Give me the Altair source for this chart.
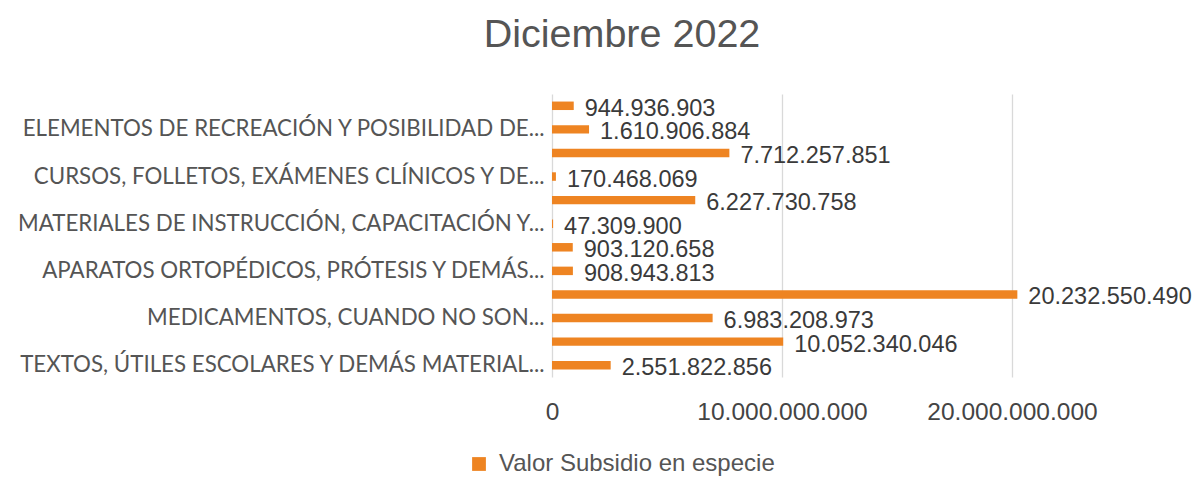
import altair as alt
import pandas as pd

categorias = [
    "(sin etiqueta 1)",
    "ELEMENTOS DE RECREACIÓN Y POSIBILIDAD DE...",
    "(sin etiqueta 2)",
    "CURSOS, FOLLETOS, EXÁMENES CLÍNICOS Y DE...",
    "(sin etiqueta 3)",
    "MATERIALES DE INSTRUCCIÓN, CAPACITACIÓN Y...",
    "(sin etiqueta 4)",
    "APARATOS ORTOPÉDICOS, PRÓTESIS Y DEMÁS...",
    "(sin etiqueta 5)",
    "MEDICAMENTOS, CUANDO NO SON...",
    "(sin etiqueta 6)",
    "TEXTOS, ÚTILES ESCOLARES Y DEMÁS MATERIAL...",
]
etiquetas_visibles = [c for c in categorias if not c.startswith("(sin")]
valores = [
    944936903,
    1610906884,
    7712257851,
    170468069,
    6227730758,
    47309900,
    903120658,
    908943813,
    20232550490,
    6983208973,
    10052340046,
    2551822856,
]
serie = "Valor Subsidio en especie"
ticks_x = [0, 10000000000, 20000000000]

df = pd.DataFrame({"categoria": categorias, "valor": valores, "serie": serie})

ORANGE = "#EE8422"
FONT = "Liberation Sans"

y_enc = alt.Y(
    "categoria:N",
    sort=categorias,
    scale=alt.Scale(paddingInner=0.64, paddingOuter=0.32),
    axis=alt.Axis(
        title=None,
        values=etiquetas_visibles,
        ticks=False,
        domain=False,
        labelFont="Lato",
        labelFontSize=22.3,
        labelColor="#555555",
        labelPadding=8,
        labelLimit=600,
    ),
)
x_enc = alt.X(
    "valor:Q",
    scale=alt.Scale(domain=[0, 27826086956], nice=False, zero=True),
    axis=alt.Axis(
        title=None,
        values=ticks_x,
        format=",d",
        ticks=False,
        domain=False,
        grid=True,
        gridColor="#D9D9D9",
        gridWidth=1.3,
        labelFont=FONT,
        labelFontSize=24.5,
        labelColor="#444444",
        labelPadding=23,
        labelFlush=False,
    ),
)

bars = alt.Chart(df).mark_bar(color=ORANGE).encode(
    y=y_enc,
    x=x_enc,
    color=alt.Color(
        "serie:N",
        scale=alt.Scale(range=[ORANGE]),
        legend=alt.Legend(
            title=None,
            orient="none",
            legendX=-85,
            legendY=358,
            symbolType="square",
            symbolSize=190,
            symbolStrokeWidth=0,
            labelOffset=8,
            labelFont=FONT,
            labelFontSize=24,
            labelColor="#555555",
            labelLimit=600,
        ),
    ),
)

labels = alt.Chart(df).mark_text(
    align="left", baseline="middle", dx=11, dy=3, font=FONT, fontSize=23.5, color="#3a3a3a"
).encode(
    y=alt.Y("categoria:N", sort=categorias),
    x=alt.X("valor:Q"),
    text=alt.Text("valor:Q", format=",d"),
)

chart = (
    alt.layer(bars, labels)
    .properties(
        width=640,
        height=283,
        autosize=alt.AutoSizeParams(type="none"),
        padding={"left": 544, "top": 86, "right": 0, "bottom": 100},
        title=alt.TitleParams(
            "Diciembre 2022",
            font=FONT,
            fontSize=39.5,
            fontWeight="normal",
            color="#555555",
            anchor="middle",
            dx=-250,
            offset=39,
        ),
    )
    .configure_view(stroke=None)
)

chart.save(
    "out.html",
    embed_options={
        "renderer": "svg",
        "actions": False,
        "formatLocale": {
            "decimal": ",",
            "thousands": ".",
            "grouping": [3],
            "currency": ["$", ""],
        },
    },
)
